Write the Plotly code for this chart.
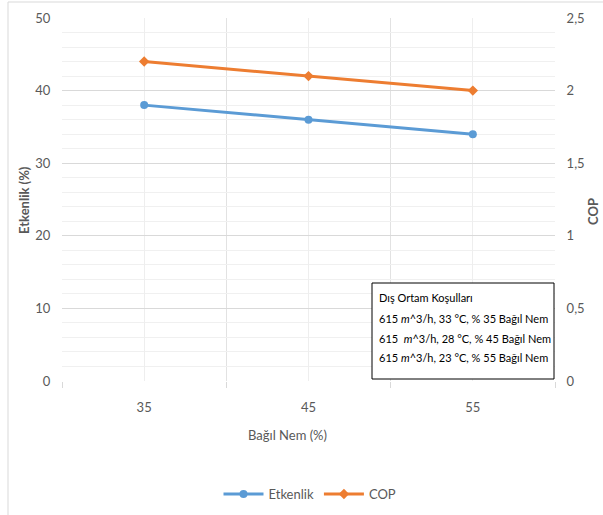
import plotly.graph_objects as go

categories = [35, 45, 55]
etkenlik = [38, 36, 34]
cop = [2.2, 2.1, 2.0]
left_ticks = [0, 10, 20, 30, 40, 50]
right_ticks = [0, 0.5, 1, 1.5, 2, 2.5]
right_tick_text = ["0", "0,5", "1", "1,5", "2", "2,5"]
box_lines = [
    "Dış Ortam Koşulları",
    "615 <i>m</i>^3/h, 33 °C, % 35 Bağıl Nem",
    "615  <i>m</i>^3/h, 28 °C, % 45 Bağıl Nem",
    "615 <i>m</i>^3/h, 23 °C, % 55 Bağıl Nem",
]

W, H = 603, 515
L, R, T, B = 62, 48, 18, 134
pw, ph = W - L - R, H - T - B

def px(x):
    return (x - L) / pw

def py(y):
    return (H - B - y) / ph

FONT = "Lato"
GRAY = "#595959"

fig = go.Figure()
fig.add_trace(go.Scatter(
    x=categories, y=etkenlik, name="Etkenlik", mode="lines+markers",
    line=dict(color="#5B9BD5", width=3),
    marker=dict(symbol="circle", size=8, color="#5B9BD5"),
))
fig.add_trace(go.Scatter(
    x=categories, y=cop, name="COP", mode="lines+markers", yaxis="y2",
    line=dict(color="#ED7D31", width=3),
    marker=dict(symbol="diamond", size=8, color="#ED7D31"),
))

annotations = []
line_y = [297, 318, 338, 357]
for txt, yy in zip(box_lines, line_y):
    annotations.append(dict(
        xref="paper", yref="paper", x=px(377), y=py(yy), xanchor="left", yanchor="middle",
        text=txt, align="left", showarrow=False,
        font=dict(family=FONT, size=11, color="black"),
    ))
annotations += [
    dict(xref="paper", yref="paper", x=px(24), y=py(200), xanchor="center", yanchor="middle",
         text="<b>Etkenlik (%)</b>", textangle=-90, showarrow=False,
         font=dict(family=FONT, size=13, color=GRAY)),
    dict(xref="paper", yref="paper", x=px(593), y=py(212), xanchor="center", yanchor="middle",
         text="<b>COP</b>", textangle=-90, showarrow=False,
         font=dict(family=FONT, size=13, color=GRAY)),
    dict(xref="paper", yref="paper", x=px(287), y=py(435), xanchor="center", yanchor="middle",
         text="Bağıl Nem (%)", showarrow=False,
         font=dict(family=FONT, size=13, color=GRAY)),
]

fig.update_layout(
    width=W, height=H,
    margin=dict(l=L, r=R, t=T, b=B, autoexpand=False),
    paper_bgcolor="white", plot_bgcolor="white",
    font=dict(family=FONT, size=13, color=GRAY),
    showlegend=True,
    legend=dict(orientation="h", x=px(310), xanchor="center", y=py(494), yanchor="middle",
                font=dict(family=FONT, size=13, color=GRAY), itemwidth=40),
    xaxis=dict(
        range=[30, 60], tickvals=categories, ticktext=[str(c) for c in categories],
        showgrid=True, gridcolor="#eeeeee", gridwidth=1, automargin=False,
        ticks="outside", ticklen=14, tickcolor="rgba(0,0,0,0)",
        zeroline=False, showline=False,
        minor=dict(tickvals=[30, 40, 50, 60], showgrid=True, gridcolor="#e2e2e2",
                   ticks="outside", ticklen=6, tickcolor="#d9d9d9"),
        tickfont=dict(size=13, color=GRAY),
    ),
    yaxis=dict(
        range=[0, 50], tickvals=left_ticks, showgrid=True, gridcolor="#d9d9d9",
        zeroline=False, showline=False, automargin=False,
        ticks="outside", ticklen=8, tickcolor="rgba(0,0,0,0)",
        minor=dict(dtick=2, tick0=0, showgrid=True, gridcolor="#f0f0f0"),
        tickfont=dict(size=13, color=GRAY),
    ),
    yaxis2=dict(
        range=[0, 2.5], tickvals=right_ticks, ticktext=right_tick_text,
        overlaying="y", side="right", showgrid=False, zeroline=False, showline=False,
        automargin=False,
        ticks="outside", ticklen=8, tickcolor="rgba(0,0,0,0)",
        tickfont=dict(size=13, color=GRAY),
    ),
    shapes=[
        dict(type="line", xref="paper", yref="paper", x0=px(8), x1=px(8), y0=py(2), y1=py(515),
             line=dict(color="#d9d9d9", width=1)),
        dict(type="line", xref="paper", yref="paper", x0=px(8), x1=px(603), y0=py(2), y1=py(2),
             line=dict(color="#d9d9d9", width=1)),
        dict(type="rect", xref="paper", yref="paper", x0=px(372), x1=px(554), y0=py(283), y1=py(379),
             line=dict(color="black", width=1), fillcolor="white", layer="above"),
    ],
    annotations=annotations,
)

fig.write_html("out.html")
